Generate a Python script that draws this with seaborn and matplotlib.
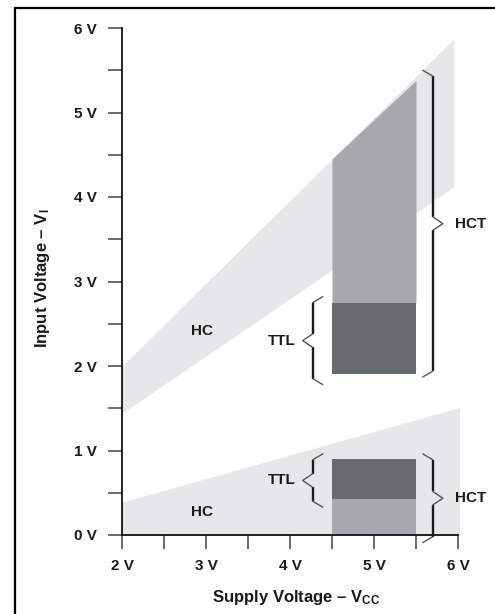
import matplotlib
matplotlib.use("Agg")
import matplotlib.pyplot as plt
import seaborn as sns
from matplotlib.lines import Line2D
from matplotlib.ticker import MultipleLocator

# ---------------- data (volts) ----------------
vcc_hi_band = [2.0, 5.95]          # supply range of HC "high" band
hc_vih_low = [1.44, 4.12]          # lower edge of HC high band
hc_vih_high = [2.0, 5.87]          # upper edge of HC high band
vcc_lo_band = [2.0, 6.02]          # supply range of HC "low" band
hc_vil_high = [0.39, 1.51]         # upper edge of HC low band

hct_vcc = [4.5, 5.5]               # HCT supply range
hct_high_top = [4.45, 5.38]        # top of HCT high range
ttl_high = [1.9, 2.75]             # TTL high range
ttl_low = [0.43, 0.9]              # TTL low range

brace_x = [5.70, 4.27, 4.27, 5.70]
brace_lo = [1.87, 1.78, 0.33, -0.09]
brace_hi = [5.50, 2.82, 0.96, 0.96]
brace_side = [1, -1, -1, 1]
brace_text = ["HCT", "TTL", "TTL", "HCT"]

hc_label_x = [2.95, 2.95]
hc_label_y = [2.41, 0.27]

x_ticks = [2, 3, 4, 5, 6]
x_ticklabels = ["2 V", "3 V", "4 V", "5 V", "6 V"]
y_ticks = [0, 1, 2, 3, 4, 5, 6]
y_ticklabels = ["0 V", "1 V", "2 V", "3 V", "4 V", "5 V", "6 V"]

LIGHT = "#e6e7e8"
MEDIUM = "#a7a8ab"
DARK = "#686b6e"

sns.set_theme(style="ticks")
plt.rcParams['font.family'] = ['Liberation Sans', 'DejaVu Sans']
plt.rcParams['font.weight'] = 'bold'
plt.rcParams['mathtext.fontset'] = 'custom'
plt.rcParams['mathtext.rm'] = 'Liberation Sans:bold'
plt.rcParams['mathtext.it'] = 'Liberation Sans:bold'
plt.rcParams['mathtext.bf'] = 'Liberation Sans:bold'

W, H = 495, 614
fig = plt.figure(figsize=(W / 100, H / 100), dpi=100)
fig.patch.set_facecolor("white")
ax = fig.add_axes([122 / W, 1 - 535 / H, 4.1 * 84 / W, 507 / H])
ax.set_xlim(2, 6.1)
ax.set_ylim(0, 6)
ax.set_facecolor("white")

# bands
ax.fill_between(vcc_hi_band, hc_vih_low, hc_vih_high, color=LIGHT, lw=0, zorder=1)
ax.fill_between(vcc_lo_band, [0, 0], hc_vil_high, color=LIGHT, lw=0, zorder=1, clip_on=False)

# HCT / TTL blocks
ax.fill_between(hct_vcc, [ttl_high[1]] * 2, hct_high_top, color=MEDIUM, lw=0, zorder=2)
ax.fill_between(hct_vcc, [ttl_high[0]] * 2, [ttl_high[1]] * 2, color=DARK, lw=0, zorder=2)
ax.fill_between(hct_vcc, [0, 0], [ttl_low[0]] * 2, color=MEDIUM, lw=0, zorder=2)
ax.fill_between(hct_vcc, [ttl_low[0]] * 2, [ttl_low[1]] * 2, color=DARK, lw=0, zorder=2)

LABEL_FS = 11


def brace(x, y0, y1, side, label):
    ym = (y0 + y1) / 2
    sdx, sdy = 0.12, 0.07
    pdx, pdy = 0.12, 0.08
    kw_v = dict(color="#1a1a1a", lw=1.7, clip_on=False, zorder=4, solid_capstyle="butt")
    kw_d = dict(color="#555555", lw=1.0, clip_on=False, zorder=4)
    ax.plot([x, x], [y1 - sdy, ym + pdy], **kw_v)
    ax.plot([x, x], [ym - pdy, y0 + sdy], **kw_v)
    ax.plot([x - side * sdx, x], [y1, y1 - sdy], **kw_d)
    ax.plot([x, x - side * sdx], [y0 + sdy, y0], **kw_d)
    ax.plot([x, x + side * pdx, x], [ym + pdy, ym, ym - pdy], **kw_d)
    if side > 0:
        ax.text(x + 0.26, ym, label, ha="left", va="center", fontsize=LABEL_FS,
                fontweight="bold", color="#1a1a1a", clip_on=False)
    else:
        ax.text(x - 0.2, ym, label, ha="right", va="center", fontsize=LABEL_FS,
                fontweight="bold", color="#1a1a1a", clip_on=False)


for bx, blo, bhi, bs, bt in zip(brace_x, brace_lo, brace_hi, brace_side, brace_text):
    brace(bx, blo, bhi, bs, bt)

for lx, ly in zip(hc_label_x, hc_label_y):
    ax.text(lx, ly, "HC", ha="center", va="center", fontsize=LABEL_FS,
            fontweight="bold", color="#1a1a1a")

# axes styling
sns.despine(ax=ax)
ax.spines["left"].set_bounds(0, 6)
ax.spines["bottom"].set_bounds(2, 6)
for s in ("left", "bottom"):
    ax.spines[s].set_color("#111111")
    ax.spines[s].set_linewidth(1.3)
ax.set_xticks(x_ticks)
ax.set_xticklabels(x_ticklabels)
ax.set_yticks(y_ticks)
ax.set_yticklabels(y_ticklabels)
ax.xaxis.set_minor_locator(MultipleLocator(0.5))
ax.yaxis.set_minor_locator(MultipleLocator(0.5))
ax.tick_params(axis="both", which="both", direction="out", length=10, width=1.1,
               color="#444444", labelsize=11, labelcolor="#1a1a1a")
ax.tick_params(axis="y", which="major", pad=8)
ax.tick_params(axis="x", which="major", pad=7)
for lab in ax.get_xticklabels() + ax.get_yticklabels():
    lab.set_fontweight("bold")

ax.set_xlabel(r"Supply Voltage – V$_{\mathregular{CC}}$", fontsize=12, fontweight="bold",
              color="#1a1a1a")
ax.set_ylabel(r"Input Voltage – V$_{\mathregular{I}}$", fontsize=12, fontweight="bold",
              color="#1a1a1a")
ax.xaxis.set_label_coords((296 - 122) / (4.1 * 84), -(588 - 535) / 507)
ax.yaxis.set_label_coords(-(122 - 52) / (4.1 * 84), (535 - 278) / 507)

# outer frame (left and top edges)
fig.add_artist(Line2D([15 / W, 15 / W], [0, 1 - 8 / H], transform=fig.transFigure,
                      color="black", lw=1.6))
fig.add_artist(Line2D([15 / W, 1], [1 - 8 / H, 1 - 8 / H], transform=fig.transFigure,
                      color="black", lw=1.6))

fig.savefig("out.png", dpi=100)
